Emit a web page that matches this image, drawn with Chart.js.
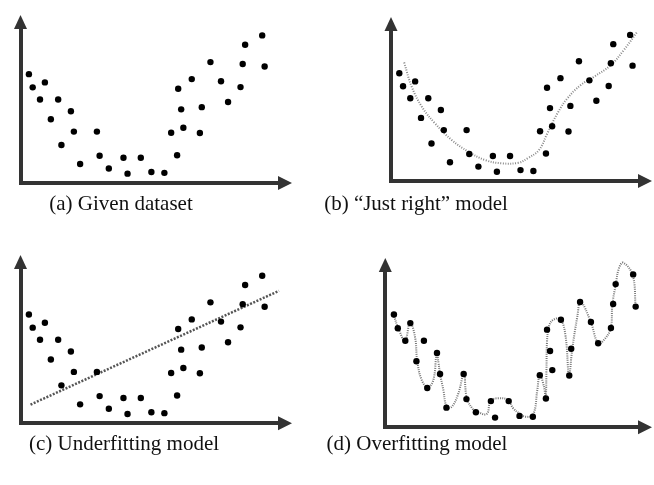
<!DOCTYPE html>
<html>
<head>
<meta charset="utf-8">
<script src="https://cdn.jsdelivr.net/npm/chart.js@4"></script>
<style>
  body { margin: 0; background: #fff; width: 654px; height: 485px; position: relative; overflow: hidden; }
  .panel { position: absolute; }
  .cap { position: absolute; width: 300px; text-align: center; white-space: nowrap;
         font-family: "Liberation Serif", "Times New Roman", serif; font-size: 21px; line-height: 21px; color: #111; }
</style>
</head>
<body>

<script>
// dataset (same 35 points in every panel)
const dotX = [3.1, 4.5, 7.2, 9.0, 11.2, 13.9, 15.1, 18.6, 19.7, 22.0, 28.2, 29.2, 32.6, 38.0, 39.5, 44.4, 48.3, 53.1,
              55.6, 57.8, 58.2, 59.3, 60.1, 63.2, 66.2, 66.9, 70.1, 74.0, 76.6, 81.2, 82.0, 82.9, 85.6, 89.2, 90.1];
const dotY = [39.6, 34.8, 30.4, 36.6, 23.2, 30.4, 13.8, 26.1, 18.7, 6.9, 18.7, 9.9, 5.3, 9.2, 3.4, 9.2, 4.0, 3.7,
              18.3, 10.1, 34.3, 26.8, 20.1, 37.8, 18.2, 27.6, 44.0, 37.0, 29.5, 34.9, 43.3, 50.3, 58.1, 53.7, 42.4];

// "just right" curve
const rightX = [4.9, 7.7, 11.5, 16.4, 22.6, 28.8, 35.1, 41.3, 47.5, 50.9, 55.2, 58.3, 62.1, 65.8, 70.8, 75.7, 82.0, 86.9, 91.9];
const rightY = [43.6, 34.7, 27.3, 21.2, 15.1, 10.8, 7.7, 6.5, 6.7, 8.3, 11.4, 17.5, 24.9, 30.4, 35.3, 38.3, 42.6, 48.2, 54.9];

// underfitting straight line
const underX = [3.7, 95.4];
const underY = [6.8, 48.2];

// overfitting curve
const overX = [2.9, 4.7, 7.1, 8.9, 10.7, 11.5, 13.1, 15.3, 17.3, 18.5, 19.1, 19.7, 20.9, 22.1, 23.9, 26.3, 28.3, 29.3,
               31.7, 32.9, 36.5, 37.9, 40.6, 44.2, 46.0, 48.5, 50.5, 53.2, 54.7, 55.6, 57.1, 57.7, 58.0, 58.2, 58.9,
               60.5, 63.1, 64.9, 66.1, 67.3, 69.1, 70.3, 73.9, 76.6, 78.7, 81.1, 81.7, 82.9, 84.1, 85.6, 89.0, 90.1];
const overY = [39.7, 34.8, 30.4, 36.8, 31.8, 23.3, 16.6, 14.1, 16.6, 26.0, 23.0, 18.7, 13.1, 7.2, 7.2, 11.9, 19.0, 10.4,
               6.1, 5.5, 4.7, 9.3, 10.2, 9.6, 6.7, 4.7, 3.7, 4.4, 13.1, 18.4, 14.3, 10.4, 20.0, 30.0, 35.5,
               37.8, 37.9, 31.8, 18.3, 27.6, 38.9, 44.1, 37.1, 29.5, 30.7, 34.8, 43.0, 50.0, 55.9, 57.8, 53.5, 42.4];

const captions = ['(a) Given dataset', '(b) \u201cJust right\u201d model', '(c) Underfitting model', '(d) Overfitting model'];

const toXY = (xs, ys) => xs.map((x, i) => ({ x: x, y: ys[i] }));

// where each panel sits on the page
const panels = [
  { box: [0, 0, 327, 235],     area: { l: 20.5, t: 28, r: 279, b: 183 },    xMax: 95.4, yMax: 56.4, fit: null,
    cap: [121, 193] },
  { box: [327, 0, 327, 235],   area: { l: 391, t: 30, r: 639, b: 181 },     xMax: 92.5, yMax: 55.5,
    fit: { xs: rightX, ys: rightY, color: '#8a8a8a', width: 2, dash: [1, 1.5], tension: 0.4 }, cap: [416, 193] },
  { box: [0, 240, 327, 245],   area: { l: 20.5, t: 268, r: 279, b: 423.3 }, xMax: 95.4, yMax: 56.5,
    fit: { xs: underX, ys: underY, color: '#555', width: 2.5, dash: [2, 1.5], tension: 0 }, cap: [124, 433] },
  { box: [327, 240, 327, 245], area: { l: 385.3, t: 271, r: 639, b: 427.3 }, xMax: 91.3, yMax: 54.9,
    fit: { xs: overX, ys: overY, color: '#777', width: 2, dash: [1, 1.2], tension: 0.4 }, cap: [417, 433] }
];

const axisColor = '#333';

// arrow heads at the ends of both axes
const arrowPlugin = {
  id: 'arrows',
  afterDraw(chart) {
    const ctx = chart.ctx;
    const a = chart.chartArea;
    ctx.save();
    ctx.fillStyle = axisColor;
    ctx.beginPath();
    ctx.moveTo(a.left - 6.5, a.top + 1);
    ctx.lineTo(a.left + 6.5, a.top + 1);
    ctx.lineTo(a.left, a.top - 13);
    ctx.closePath();
    ctx.fill();
    ctx.beginPath();
    ctx.moveTo(a.right - 1, a.bottom - 7);
    ctx.lineTo(a.right - 1, a.bottom + 7);
    ctx.lineTo(a.right + 13, a.bottom);
    ctx.closePath();
    ctx.fill();
    ctx.restore();
  }
};

panels.forEach((p, k) => {
  const div = document.createElement('div');
  div.className = 'panel';
  div.style.left = p.box[0] + 'px';
  div.style.top = p.box[1] + 'px';
  const cv = document.createElement('canvas');
  cv.width = p.box[2];
  cv.height = p.box[3];
  div.appendChild(cv);
  document.body.appendChild(div);

  const cap = document.createElement('div');
  cap.className = 'cap';
  cap.style.left = (p.cap[0] - 150) + 'px';
  cap.style.top = p.cap[1] + 'px';
  cap.textContent = captions[k];
  document.body.appendChild(cap);

  const datasets = [{
    data: toXY(dotX, dotY),
    backgroundColor: '#000',
    borderColor: '#000',
    pointRadius: 3.2,
    borderWidth: 0,
    clip: false
  }];
  if (p.fit) {
    datasets.push({
      data: toXY(p.fit.xs, p.fit.ys),
      showLine: true,
      pointRadius: 0,
      borderColor: p.fit.color,
      borderWidth: p.fit.width,
      borderDash: p.fit.dash,
      tension: p.fit.tension,
      fill: false,
      clip: false
    });
  }

  new Chart(cv, {
    type: 'scatter',
    data: { datasets: datasets },
    options: {
      responsive: false,
      animation: false,
      events: [],
      layout: {
        padding: {
          left: p.area.l - p.box[0],
          top: p.area.t - p.box[1],
          right: p.box[0] + p.box[2] - p.area.r,
          bottom: p.box[1] + p.box[3] - p.area.b
        }
      },
      plugins: { legend: { display: false }, tooltip: { enabled: false } },
      scales: {
        x: {
          type: 'linear', min: 0, max: p.xMax,
          ticks: { display: false },
          grid: { display: false, drawTicks: false },
          border: { display: true, color: axisColor, width: 4 }
        },
        y: {
          type: 'linear', min: 0, max: p.yMax,
          ticks: { display: false },
          grid: { display: false, drawTicks: false },
          border: { display: true, color: axisColor, width: 4 }
        }
      }
    },
    plugins: [arrowPlugin]
  });
});
</script>
</body>
</html>
